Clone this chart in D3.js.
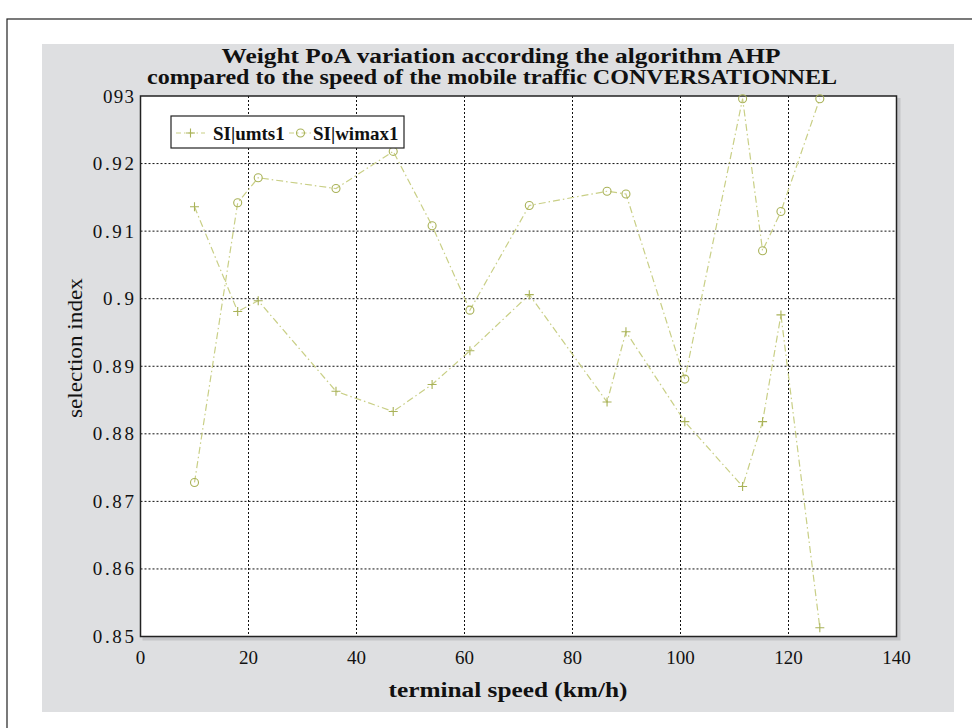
<!DOCTYPE html>
<html>
<head>
<meta charset="utf-8">
<script src="https://cdn.jsdelivr.net/npm/d3@7"></script>
<style>
  body { margin: 0; background: #fff; }
  svg { display: block; font-family: "Liberation Serif", "Times New Roman", serif; }
</style>
</head>
<body>
<svg id="chart" width="972" height="728"></svg>
<script>
// ---- data ----
const speeds = [10, 18, 21.8, 36.2, 46.8, 54, 61, 72, 86.4, 89.9, 100.8, 111.5, 115.2, 118.6, 125.8];
const umts = [0.9136, 0.8981, 0.8997, 0.8863, 0.8833, 0.8873, 0.8923, 0.9006, 0.8847, 0.8951, 0.8818, 0.8722, 0.8818, 0.8976, 0.8513];
const wimax = [0.8728, 0.9142, 0.9179, 0.9163, 0.9218, 0.9108, 0.8983, 0.9138, 0.9159, 0.9155, 0.8881, 0.9296, 0.9071, 0.9129, 0.9296];
const xTicks = [0, 20, 40, 60, 80, 100, 120, 140];
const yTicks = [0.85, 0.86, 0.87, 0.88, 0.89, 0.9, 0.91, 0.92, 0.93];
const yTickLabels = ["0.85", "0.86", "0.87", "0.88", "0.89", "0.9", "0.91", "0.92", "093"];
const seriesNames = ["SI|umts1", "SI|wimax1"];
const titleLines = [
  "Weight PoA variation according the algorithm AHP",
  "compared to the speed of the mobile traffic CONVERSATIONNEL"
];

const svg = d3.select("#chart");
const plot = { left: 140.5, right: 896.5, top: 96, bottom: 636.5 };
const lineColor = "#c9cf86";
const markColor = "#a9b258";

// outer frame + gray panel
svg.append("rect").attr("x", 7).attr("y", 19).attr("width", 1000).attr("height", 800)
  .attr("fill", "#fff").attr("stroke", "#222").attr("stroke-width", 1.2);
svg.append("rect").attr("x", 42).attr("y", 44).attr("width", 912).attr("height", 668)
  .attr("fill", "#dedfe1");

const x = d3.scaleLinear().domain([0, 140]).range([plot.left, plot.right]);
const y = d3.scaleLinear().domain([0.85, 0.93]).range([plot.bottom, plot.top]);

// plot shadow + background
svg.append("rect").attr("x", plot.left + 2).attr("y", plot.top + 2)
  .attr("width", plot.right - plot.left + 2).attr("height", plot.bottom - plot.top + 2)
  .attr("fill", "#c4c5c8");
svg.append("rect").attr("x", plot.left).attr("y", plot.top)
  .attr("width", plot.right - plot.left).attr("height", plot.bottom - plot.top)
  .attr("fill", "#fff");

// grid
const grid = svg.append("g").attr("stroke", "#111").attr("stroke-width", 1).attr("stroke-dasharray", "2,2");
xTicks.slice(1, -1).forEach(t => {
  grid.append("line").attr("x1", x(t)).attr("x2", x(t)).attr("y1", plot.top).attr("y2", plot.bottom);
});
yTicks.slice(1, -1).forEach(t => {
  grid.append("line").attr("x1", plot.left).attr("x2", plot.right).attr("y1", y(t)).attr("y2", y(t));
});

// frame
svg.append("rect").attr("x", plot.left).attr("y", plot.top)
  .attr("width", plot.right - plot.left).attr("height", plot.bottom - plot.top)
  .attr("fill", "none").attr("stroke", "#222").attr("stroke-width", 1.5);

// tick labels
xTicks.forEach(t => {
  svg.append("text").attr("x", x(t)).attr("y", 664).attr("text-anchor", "middle")
    .attr("font-size", 19).attr("fill", "#111").text(t);
});
yTicks.forEach((t, i) => {
  const lbl = yTickLabels[i];
  svg.append("text").attr("x", 134).attr("y", y(t) + 6.5).attr("text-anchor", "end")
    .attr("font-size", 19).attr("fill", "#111")
    .attr("textLength", lbl.length * 10.3).attr("lengthAdjust", "spacing")
    .text(lbl);
});

// series
const line = d3.line().x((d, i) => x(speeds[i])).y(d => y(d));
[umts, wimax].forEach(vals => {
  svg.append("path").datum(vals).attr("d", line).attr("fill", "none")
    .attr("stroke", lineColor).attr("stroke-width", 1.2).attr("stroke-dasharray", "7,3,1.5,3");
});
const plus = (g, cx, cy) => {
  g.append("path").attr("d", `M${cx - 4.5},${cy}H${cx + 4.5}M${cx},${cy - 4.5}V${cy + 4.5}`)
    .attr("stroke", markColor).attr("stroke-width", 1.1).attr("fill", "none");
};
const circ = (g, cx, cy) => {
  g.append("circle").attr("cx", cx).attr("cy", cy).attr("r", 4)
    .attr("stroke", markColor).attr("stroke-width", 1.1).attr("fill", "none");
};
const marks = svg.append("g");
umts.forEach((v, i) => plus(marks, x(speeds[i]), y(v)));
wimax.forEach((v, i) => circ(marks, x(speeds[i]), y(v)));

// legend
const lg = svg.append("g");
lg.append("rect").attr("x", 171).attr("y", 116).attr("width", 233).attr("height", 32)
  .attr("fill", "#fff").attr("stroke", "#222").attr("stroke-width", 1.2);
const legY = 133;
[[176, 205, plus, 213], [289, 312, circ, 313]].forEach(([x1, x2, mk, tx], i) => {
  lg.append("line").attr("x1", x1).attr("x2", x2).attr("y1", legY).attr("y2", legY)
    .attr("stroke", lineColor).attr("stroke-width", 1.2).attr("stroke-dasharray", "5,3,1.5,3");
  mk(lg, (x1 + x2) / 2, legY);
  lg.append("text").attr("x", tx).attr("y", legY + 6.5).attr("font-size", 19)
    .attr("font-weight", "bold").attr("fill", "#111").text(seriesNames[i]);
});

// titles
svg.append("text").attr("x", 501).attr("y", 63).attr("text-anchor", "middle")
  .attr("font-size", 20).attr("font-weight", "bold").attr("fill", "#111")
  .attr("textLength", 559).attr("lengthAdjust", "spacingAndGlyphs").text(titleLines[0]);
svg.append("text").attr("x", 492).attr("y", 84).attr("text-anchor", "middle")
  .attr("font-size", 20).attr("font-weight", "bold").attr("fill", "#111")
  .attr("textLength", 690).attr("lengthAdjust", "spacingAndGlyphs").text(titleLines[1]);

svg.append("text").attr("x", 508).attr("y", 697).attr("text-anchor", "middle")
  .attr("font-size", 20).attr("font-weight", "bold").attr("fill", "#111")
  .attr("textLength", 239).attr("lengthAdjust", "spacingAndGlyphs").text("terminal speed (km/h)");

svg.append("text").attr("transform", "translate(82,348) rotate(-90)").attr("text-anchor", "middle")
  .attr("font-size", 20).attr("fill", "#111")
  .attr("textLength", 140).attr("lengthAdjust", "spacingAndGlyphs").text("selection index");
</script>
</body>
</html>
